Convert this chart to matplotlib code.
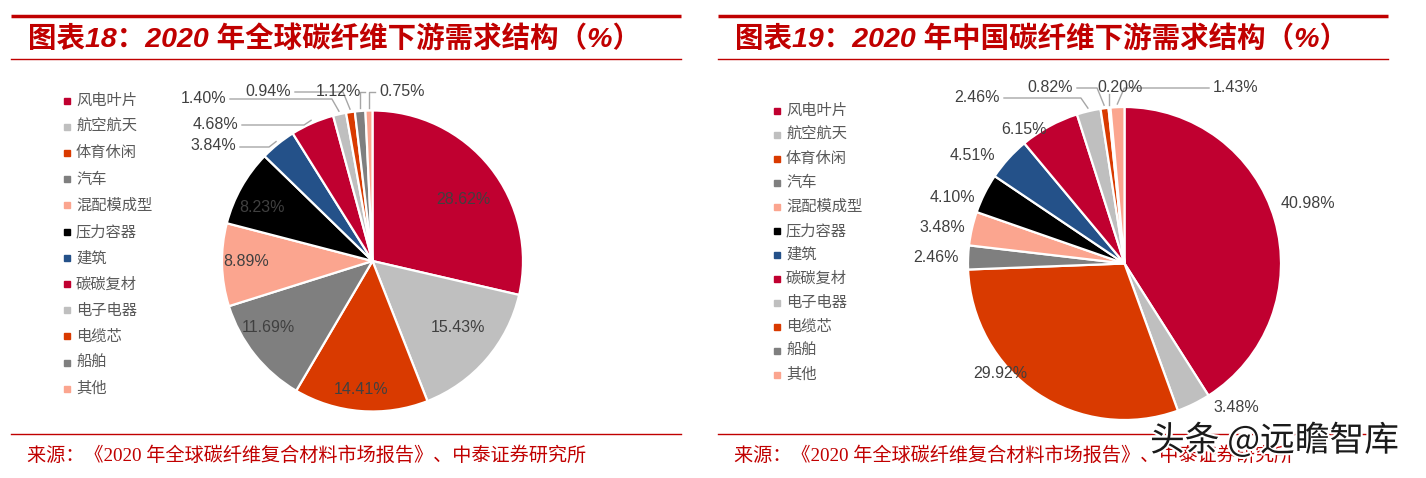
import numpy as np
import matplotlib.pyplot as plt
import matplotlib.patheffects as pe

plt.rcParams['font.family'] = ['Liberation Sans', 'Noto Sans CJK SC', 'DejaVu Sans']

W, H = 1426, 478

# Datos (%)
categorias = ['风电叶片', '航空航天', '体育休闲', '汽车', '混配模成型', '压力容器',
              '建筑', '碳碳复材', '电子电器', '电缆芯', '船舶', '其他']
global_pct = [28.62, 15.43, 14.41, 11.69, 8.89, 8.23, 3.84, 4.68, 1.40, 0.94, 1.12, 0.75]
china_pct = [40.98, 3.48, 29.92, 2.46, 3.48, 4.10, 4.51, 6.15, 2.46, 0.82, 0.20, 1.43]
colores = ['#C00030', '#BFBFBF', '#D93A00', '#7F7F7F', '#FBA58F', '#000000',
           '#245189', '#C00030', '#BFBFBF', '#D93A00', '#7F7F7F', '#FBA58F']

titulo_izq = '图表18：2020 年全球碳纤维下游需求结构（%）'
titulo_der = '图表19：2020 年中国碳纤维下游需求结构（%）'
fuente = '来源：《2020 年全球碳纤维复合材料市场报告》、中泰证券研究所'

ROJO = '#C00000'
GRIS_TXT = '#404040'

# Posiciones de etiquetas (pixeles) y si llevan linea guia
pos_global = [(463, 200, 'center'), (458, 328, 'center'), (361, 389, 'center'),
              (268, 327, 'center'), (246, 262, 'center'), (262, 207, 'center'),
              (236, 146, 'right'), (238, 124, 'right'), (226, 98, 'right'),
              (291, 91, 'right'), (361, 91, 'right'), (379, 91, 'left')]
guia_global = [False] * 6 + [True] * 6
pos_china = [(1308, 203, 'center'), (1236, 408, 'center'), (1000, 374, 'center'),
             (936, 258, 'center'), (942, 227, 'center'), (952, 198, 'center'),
             (972, 155, 'center'), (1024, 129, 'center'),
             (1000, 97, 'right'), (1073, 87, 'right'), (1120, 87, 'center'), (1213, 87, 'left')]
guia_china = [False] * 8 + [True] * 4

fig = plt.figure(figsize=(W / 100, H / 100), dpi=100)


def hacer_pie(cx, cy, R, valores):
    ax = fig.add_axes([(cx - R) / W, (H - cy - R) / H, 2 * R / W, 2 * R / H])
    wedges, _ = ax.pie(valores, colors=colores, startangle=90, counterclock=False,
                       radius=1, wedgeprops=dict(edgecolor='white', linewidth=1.6))
    ax.set_xlim(-1, 1)
    ax.set_ylim(-1, 1)
    return wedges


piezas_g = hacer_pie(372.5, 261, 150.5, global_pct)
piezas_c = hacer_pie(1124.5, 263.5, 156.5, china_pct)

# Capa superior en coordenadas de pixel
ov = fig.add_axes([0, 0, 1, 1])
ov.set_xlim(0, W)
ov.set_ylim(H, 0)
ov.axis('off')


def etiquetas(wedges, valores, posiciones, guias, cx, cy, R):
    for w, v, (x, y, ha), g in zip(wedges, valores, posiciones, guias):
        ov.text(x, y, f'{v:.2f}%', ha=ha, va='center', fontsize=11.5,
                color=GRIS_TXT, family='Liberation Sans')
        if not g:
            continue
        ang = np.deg2rad((w.theta1 + w.theta2) / 2)
        axp = cx + R * 1.02 * np.cos(ang)
        ayp = cy - R * 1.02 * np.sin(ang)
        if ha == 'center':
            pts = [(axp, y + 7), (axp, ayp)]
        else:
            x0 = x + 4 if ha == 'right' else x - 4
            d = np.sign(axp - x0)
            ex = axp - d * 7
            if abs(axp - x0) < 20:
                ex = axp
            pts = [(x0, y + 1), (ex, y + 1), (axp, ayp)]
        xs, ys = zip(*pts)
        ov.plot(xs, ys, color='#A6A6A6', lw=1.0)


etiquetas(piezas_g, global_pct, pos_global, guia_global, 372.5, 261, 150.5)
etiquetas(piezas_c, china_pct, pos_china, guia_china, 1124.5, 263.5, 156.5)


def marco(x0, x1, titulo, tx):
    ov.plot([x0, x1], [15.5, 15.5], color=ROJO, lw=2.5, solid_capstyle='butt')
    ov.plot([x0, x1], [59, 59], color=ROJO, lw=1.0)
    ov.plot([x0, x1], [434, 434], color=ROJO, lw=1.0)
    ov.text(tx, 39, titulo, ha='left', va='center', fontsize=20.5, color=ROJO,
            fontweight='bold', fontstyle='italic')
    ov.text(tx - 1, 456, fuente, ha='left', va='center', fontsize=13.8, color=ROJO,
            family=['Liberation Serif', 'Noto Sans CJK SC'])


marco(11, 681, titulo_izq, 28)
marco(718, 1388, titulo_der, 735)


def leyenda(x, y0, paso):
    for i, (cat, col) in enumerate(zip(categorias, colores)):
        y = y0 + i * paso
        ov.plot(x, y, marker='s', ms=4, color=col, mec=col)
        ov.text(x + 9, y, cat, ha='left', va='center', fontsize=11, color='#595959',
                family='Noto Sans CJK SC')


leyenda(67, 100.5, 26.2)
leyenda(777, 110.5, 24.0)

# Marca de agua
ov.text(1150, 441, '头条 @远瞻智库', ha='left', va='center', fontsize=25, color='#1A1A1A',
        family=['Noto Sans CJK SC'],
        path_effects=[pe.withStroke(linewidth=3, foreground='white')])

fig.savefig('out.png', dpi=100)
